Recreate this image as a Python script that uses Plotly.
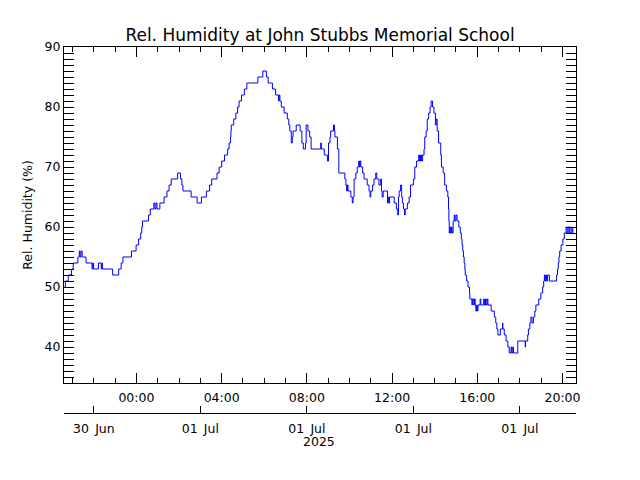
import plotly.graph_objects as go

# ---- data (time, relative humidity %) ----
times = [
    "2025-06-30 20:38", "2025-06-30 20:40", "2025-06-30 20:48", "2025-06-30 20:57", "2025-06-30 21:02",
    "2025-06-30 21:15", "2025-06-30 21:19", "2025-06-30 21:21", "2025-06-30 21:24", "2025-06-30 21:27",
    "2025-06-30 21:38", "2025-06-30 21:55", "2025-06-30 21:57", "2025-06-30 21:59", "2025-06-30 22:13",
    "2025-06-30 22:21", "2025-06-30 22:23", "2025-06-30 22:24", "2025-06-30 22:53", "2025-06-30 23:10",
    "2025-06-30 23:17", "2025-06-30 23:22", "2025-06-30 23:46", "2025-06-30 23:59",
    "2025-07-01 00:06", "2025-07-01 00:12", "2025-07-01 00:15", "2025-07-01 00:17", "2025-07-01 00:34",
    "2025-07-01 00:39", "2025-07-01 00:49", "2025-07-01 00:52", "2025-07-01 00:55", "2025-07-01 00:58",
    "2025-07-01 01:06", "2025-07-01 01:18", "2025-07-01 01:26", "2025-07-01 01:32", "2025-07-01 01:38",
    "2025-07-01 01:56", "2025-07-01 02:04", "2025-07-01 02:08", "2025-07-01 02:11", "2025-07-01 02:34",
    "2025-07-01 02:51", "2025-07-01 03:03", "2025-07-01 03:17", "2025-07-01 03:26", "2025-07-01 03:32",
    "2025-07-01 03:47", "2025-07-01 03:53", "2025-07-01 04:00", "2025-07-01 04:08", "2025-07-01 04:17",
    "2025-07-01 04:21", "2025-07-01 04:25", "2025-07-01 04:26", "2025-07-01 04:27", "2025-07-01 04:34",
    "2025-07-01 04:40", "2025-07-01 04:45", "2025-07-01 04:49", "2025-07-01 04:56", "2025-07-01 05:04",
    "2025-07-01 05:11", "2025-07-01 05:42", "2025-07-01 05:56", "2025-07-01 06:06", "2025-07-01 06:11",
    "2025-07-01 06:23", "2025-07-01 06:32", "2025-07-01 06:40", "2025-07-01 06:42", "2025-07-01 06:44",
    "2025-07-01 06:48", "2025-07-01 06:56", "2025-07-01 07:05", "2025-07-01 07:09", "2025-07-01 07:12",
    "2025-07-01 07:16", "2025-07-01 07:19", "2025-07-01 07:21", "2025-07-01 07:30", "2025-07-01 07:41",
    "2025-07-01 07:46", "2025-07-01 07:50", "2025-07-01 07:56", "2025-07-01 07:58", "2025-07-01 08:03",
    "2025-07-01 08:08", "2025-07-01 08:12", "2025-07-01 08:39", "2025-07-01 08:41", "2025-07-01 08:49",
    "2025-07-01 08:58", "2025-07-01 09:01", "2025-07-01 09:05", "2025-07-01 09:07", "2025-07-01 09:15",
    "2025-07-01 09:18", "2025-07-01 09:19", "2025-07-01 09:26", "2025-07-01 09:30", "2025-07-01 09:47",
    "2025-07-01 09:50", "2025-07-01 09:52", "2025-07-01 09:54", "2025-07-01 09:56", "2025-07-01 10:04",
    "2025-07-01 10:08", "2025-07-01 10:10", "2025-07-01 10:13", "2025-07-01 10:18", "2025-07-01 10:22",
    "2025-07-01 10:26", "2025-07-01 10:28", "2025-07-01 10:30", "2025-07-01 10:32", "2025-07-01 10:37",
    "2025-07-01 10:41", "2025-07-01 10:50", "2025-07-01 10:55", "2025-07-01 10:58", "2025-07-01 11:00",
    "2025-07-01 11:05", "2025-07-01 11:09", "2025-07-01 11:14", "2025-07-01 11:17", "2025-07-01 11:23",
    "2025-07-01 11:28", "2025-07-01 11:30", "2025-07-01 11:32", "2025-07-01 11:35", "2025-07-01 11:47",
    "2025-07-01 11:49", "2025-07-01 11:51", "2025-07-01 11:53", "2025-07-01 12:06", "2025-07-01 12:12",
    "2025-07-01 12:16", "2025-07-01 12:18", "2025-07-01 12:20", "2025-07-01 12:24", "2025-07-01 12:27",
    "2025-07-01 12:29", "2025-07-01 12:32", "2025-07-01 12:35", "2025-07-01 12:37", "2025-07-01 12:43",
    "2025-07-01 12:48", "2025-07-01 12:52", "2025-07-01 13:00", "2025-07-01 13:04", "2025-07-01 13:09",
    "2025-07-01 13:15", "2025-07-01 13:17", "2025-07-01 13:20", "2025-07-01 13:23", "2025-07-01 13:26",
    "2025-07-01 13:30", "2025-07-01 13:32", "2025-07-01 13:36", "2025-07-01 13:39", "2025-07-01 13:43",
    "2025-07-01 13:47", "2025-07-01 13:50", "2025-07-01 13:54", "2025-07-01 13:58", "2025-07-01 14:02",
    "2025-07-01 14:04", "2025-07-01 14:07", "2025-07-01 14:11", "2025-07-01 14:17", "2025-07-01 14:19",
    "2025-07-01 14:24", "2025-07-01 14:28", "2025-07-01 14:33", "2025-07-01 14:37", "2025-07-01 14:39",
    "2025-07-01 14:40", "2025-07-01 14:41", "2025-07-01 14:43", "2025-07-01 14:45", "2025-07-01 14:47",
    "2025-07-01 14:49", "2025-07-01 14:52", "2025-07-01 14:55", "2025-07-01 14:57", "2025-07-01 15:00",
    "2025-07-01 15:03", "2025-07-01 15:08", "2025-07-01 15:12", "2025-07-01 15:15", "2025-07-01 15:17",
    "2025-07-01 15:19", "2025-07-01 15:21", "2025-07-01 15:23", "2025-07-01 15:25", "2025-07-01 15:26",
    "2025-07-01 15:30", "2025-07-01 15:34", "2025-07-01 15:38", "2025-07-01 15:39", "2025-07-01 15:45",
    "2025-07-01 15:46", "2025-07-01 15:50", "2025-07-01 15:52", "2025-07-01 15:54", "2025-07-01 15:56",
    "2025-07-01 15:58", "2025-07-01 16:00", "2025-07-01 16:02", "2025-07-01 16:08", "2025-07-01 16:10",
    "2025-07-01 16:18", "2025-07-01 16:20", "2025-07-01 16:23", "2025-07-01 16:25", "2025-07-01 16:28",
    "2025-07-01 16:30", "2025-07-01 16:39", "2025-07-01 16:48", "2025-07-01 16:52", "2025-07-01 16:55",
    "2025-07-01 16:58", "2025-07-01 17:05", "2025-07-01 17:11", "2025-07-01 17:12", "2025-07-01 17:16",
    "2025-07-01 17:21", "2025-07-01 17:26", "2025-07-01 17:30", "2025-07-01 17:35", "2025-07-01 17:37",
    "2025-07-01 17:40", "2025-07-01 17:42", "2025-07-01 17:54", "2025-07-01 18:15", "2025-07-01 18:16",
    "2025-07-01 18:22", "2025-07-01 18:24", "2025-07-01 18:28", "2025-07-01 18:31", "2025-07-01 18:34",
    "2025-07-01 18:38", "2025-07-01 18:42", "2025-07-01 18:45", "2025-07-01 18:53", "2025-07-01 18:59",
    "2025-07-01 19:04", "2025-07-01 19:07", "2025-07-01 19:09", "2025-07-01 19:11", "2025-07-01 19:13",
    "2025-07-01 19:15", "2025-07-01 19:18", "2025-07-01 19:23", "2025-07-01 19:43", "2025-07-01 19:46",
    "2025-07-01 19:48", "2025-07-01 19:50", "2025-07-01 19:52", "2025-07-01 19:56", "2025-07-01 20:01",
    "2025-07-01 20:05", "2025-07-01 20:10", "2025-07-01 20:13", "2025-07-01 20:16", "2025-07-01 20:20",
    "2025-07-01 20:24", "2025-07-01 20:27", "2025-07-01 20:29",
]
humidity = [
    50, 51, 52, 53, 54,
    55, 56, 55, 56, 55,
    54, 53, 54, 53, 54,
    53, 54, 53, 52, 53,
    54, 55, 56, 57,
    58, 59, 60, 61, 62,
    63, 64, 63, 64, 63,
    64, 65, 66, 67, 68,
    69, 68, 67, 66, 65,
    64, 65, 66, 67, 68,
    69, 70, 71, 72, 73,
    74, 75, 76, 77, 78,
    79, 80, 81, 82, 83,
    84, 85, 86, 85, 84,
    83, 82, 81, 82, 81,
    80, 79, 78, 77, 76,
    74, 75, 76, 77, 76,
    74, 73, 74, 77, 76,
    75, 73, 74, 73, 72,
    71, 74, 75, 76, 77,
    76, 75, 73, 69, 68,
    67, 66, 67, 66, 65,
    64, 65, 68, 69, 70,
    71, 70, 71, 70, 69,
    68, 67, 66, 65, 66,
    67, 68, 69, 68, 67,
    68, 66, 65, 66, 64,
    65, 64, 65, 64, 63,
    62, 65, 66, 67, 65,
    64, 63, 62, 63, 64,
    65, 67, 68, 70, 71,
    72, 71, 72, 71, 72,
    73, 75, 76, 78, 79,
    80, 81, 80, 79, 77,
    78, 76, 74, 72, 70,
    69, 67, 66, 65, 63,
    61, 59, 60, 59, 60,
    59, 61, 62, 61, 62,
    61, 60, 59, 58, 57,
    56, 55, 54, 53, 52,
    51, 50, 49, 48, 47,
    48, 47, 48, 47, 46,
    47, 46, 47, 48, 47,
    48, 47, 48, 47, 48,
    47, 46, 45, 44, 43,
    42, 43, 44, 43, 42,
    41, 40, 39, 40, 39,
    40, 39, 41, 40, 41,
    42, 43, 44, 45, 44,
    45, 46, 47, 48, 49,
    50, 51, 52, 51, 52,
    51, 52, 51, 52, 53,
    54, 55, 56, 57, 58,
    59, 60, 59, 60, 59,
    60, 59, 60,
]

title_text = "Rel. Humidity at John Stubbs Memorial School"
y_title = "Rel. Humidity (%)"
x_range = ["2025-06-30 20:36", "2025-07-01 20:38"]
y_range = [34, 90]
time_ticks = ["2025-07-01 00:00", "2025-07-01 04:00", "2025-07-01 08:00",
              "2025-07-01 12:00", "2025-07-01 16:00", "2025-07-01 20:00"]
time_labels = ["00:00", "04:00", "08:00", "12:00", "16:00", "20:00"]
date_ticks = ["2025-06-30 22:00", "2025-07-01 03:00", "2025-07-01 08:00",
              "2025-07-01 13:00", "2025-07-01 18:00"]
date_labels = ["30\u2002Jun", "01\u2002Jul", "01\u2002Jul", "01\u2002Jul", "01\u2002Jul"]
year_label = "2025"

FONT = "DejaVu Sans"
OFF = 8                      # page body margin of the browser
W, H = 640 - 2 * OFF, 480 - 2 * OFF
# target page positions (px) of the plot box and lower date axis
L, R, T, B, B2 = 64, 576, 47, 383, 413
TITLE_Y = 35

fig = go.Figure()
fig.add_trace(go.Scatter(
    x=times, y=humidity, mode="lines",
    line=dict(color="#0000ff", width=1, shape="hv"),
    xaxis="x", yaxis="y", showlegend=False, hoverinfo="skip"))
# invisible trace to activate the lower date axis
fig.add_trace(go.Scatter(
    x=times, y=humidity, mode="lines", line=dict(width=0), opacity=0,
    xaxis="x2", yaxis="y", showlegend=False, hoverinfo="skip"))

axis_common = dict(showline=True, linecolor="black", linewidth=1, automargin=False,
                   tickcolor="black", tickwidth=1, showgrid=False, zeroline=False,
                   tickfont=dict(family=FONT, size=12.5, color="black"))

fig.update_layout(
    width=W, height=H,
    margin=dict(l=L - OFF, r=W - (R - OFF), t=T - OFF, b=H - (B2 - OFF), pad=0,
                autoexpand=False),
    paper_bgcolor="white", plot_bgcolor="white",
    title=dict(text=title_text, x=(320 - OFF) / W, xanchor="center", xref="container",
               y=1 - (TITLE_Y - OFF) / H, yref="container", yanchor="middle",
               font=dict(family=FONT, size=17, color="black")),
    xaxis=dict(type="date", range=x_range, anchor="y", mirror="allticks",
               ticks="inside", ticklen=10, tickvals=time_ticks, ticktext=time_labels,
               ticklabelstandoff=3,
               minor=dict(dtick=3600000, ticks="inside", ticklen=5, tickcolor="black",
                          showgrid=False),
               **axis_common),
    xaxis2=dict(type="date", range=x_range, overlaying="x", anchor="free", position=0,
                side="bottom", ticks="inside", ticklen=7, ticklabelstandoff=4,
                tickvals=date_ticks, ticktext=date_labels, **axis_common),
    yaxis=dict(range=y_range, domain=[(B2 - B) / (B2 - T), 1], mirror="allticks",
               ticks="inside", ticklen=10, dtick=10, tick0=0,
               minor=dict(dtick=1, ticks="inside", ticklen=5, tickcolor="black",
                          showgrid=False),
               title=dict(text=y_title, standoff=9,
                          font=dict(family=FONT, size=12.5, color="black")),
               **axis_common),
)

fig.add_annotation(x="2025-07-01 08:00", y=-(441.5 - B2) / (B2 - T), xref="x", yref="paper",
                   text=year_label, showarrow=False, xshift=12, yanchor="middle",
                   font=dict(family=FONT, size=12.5, color="black"))

fig.write_html("out.html")
